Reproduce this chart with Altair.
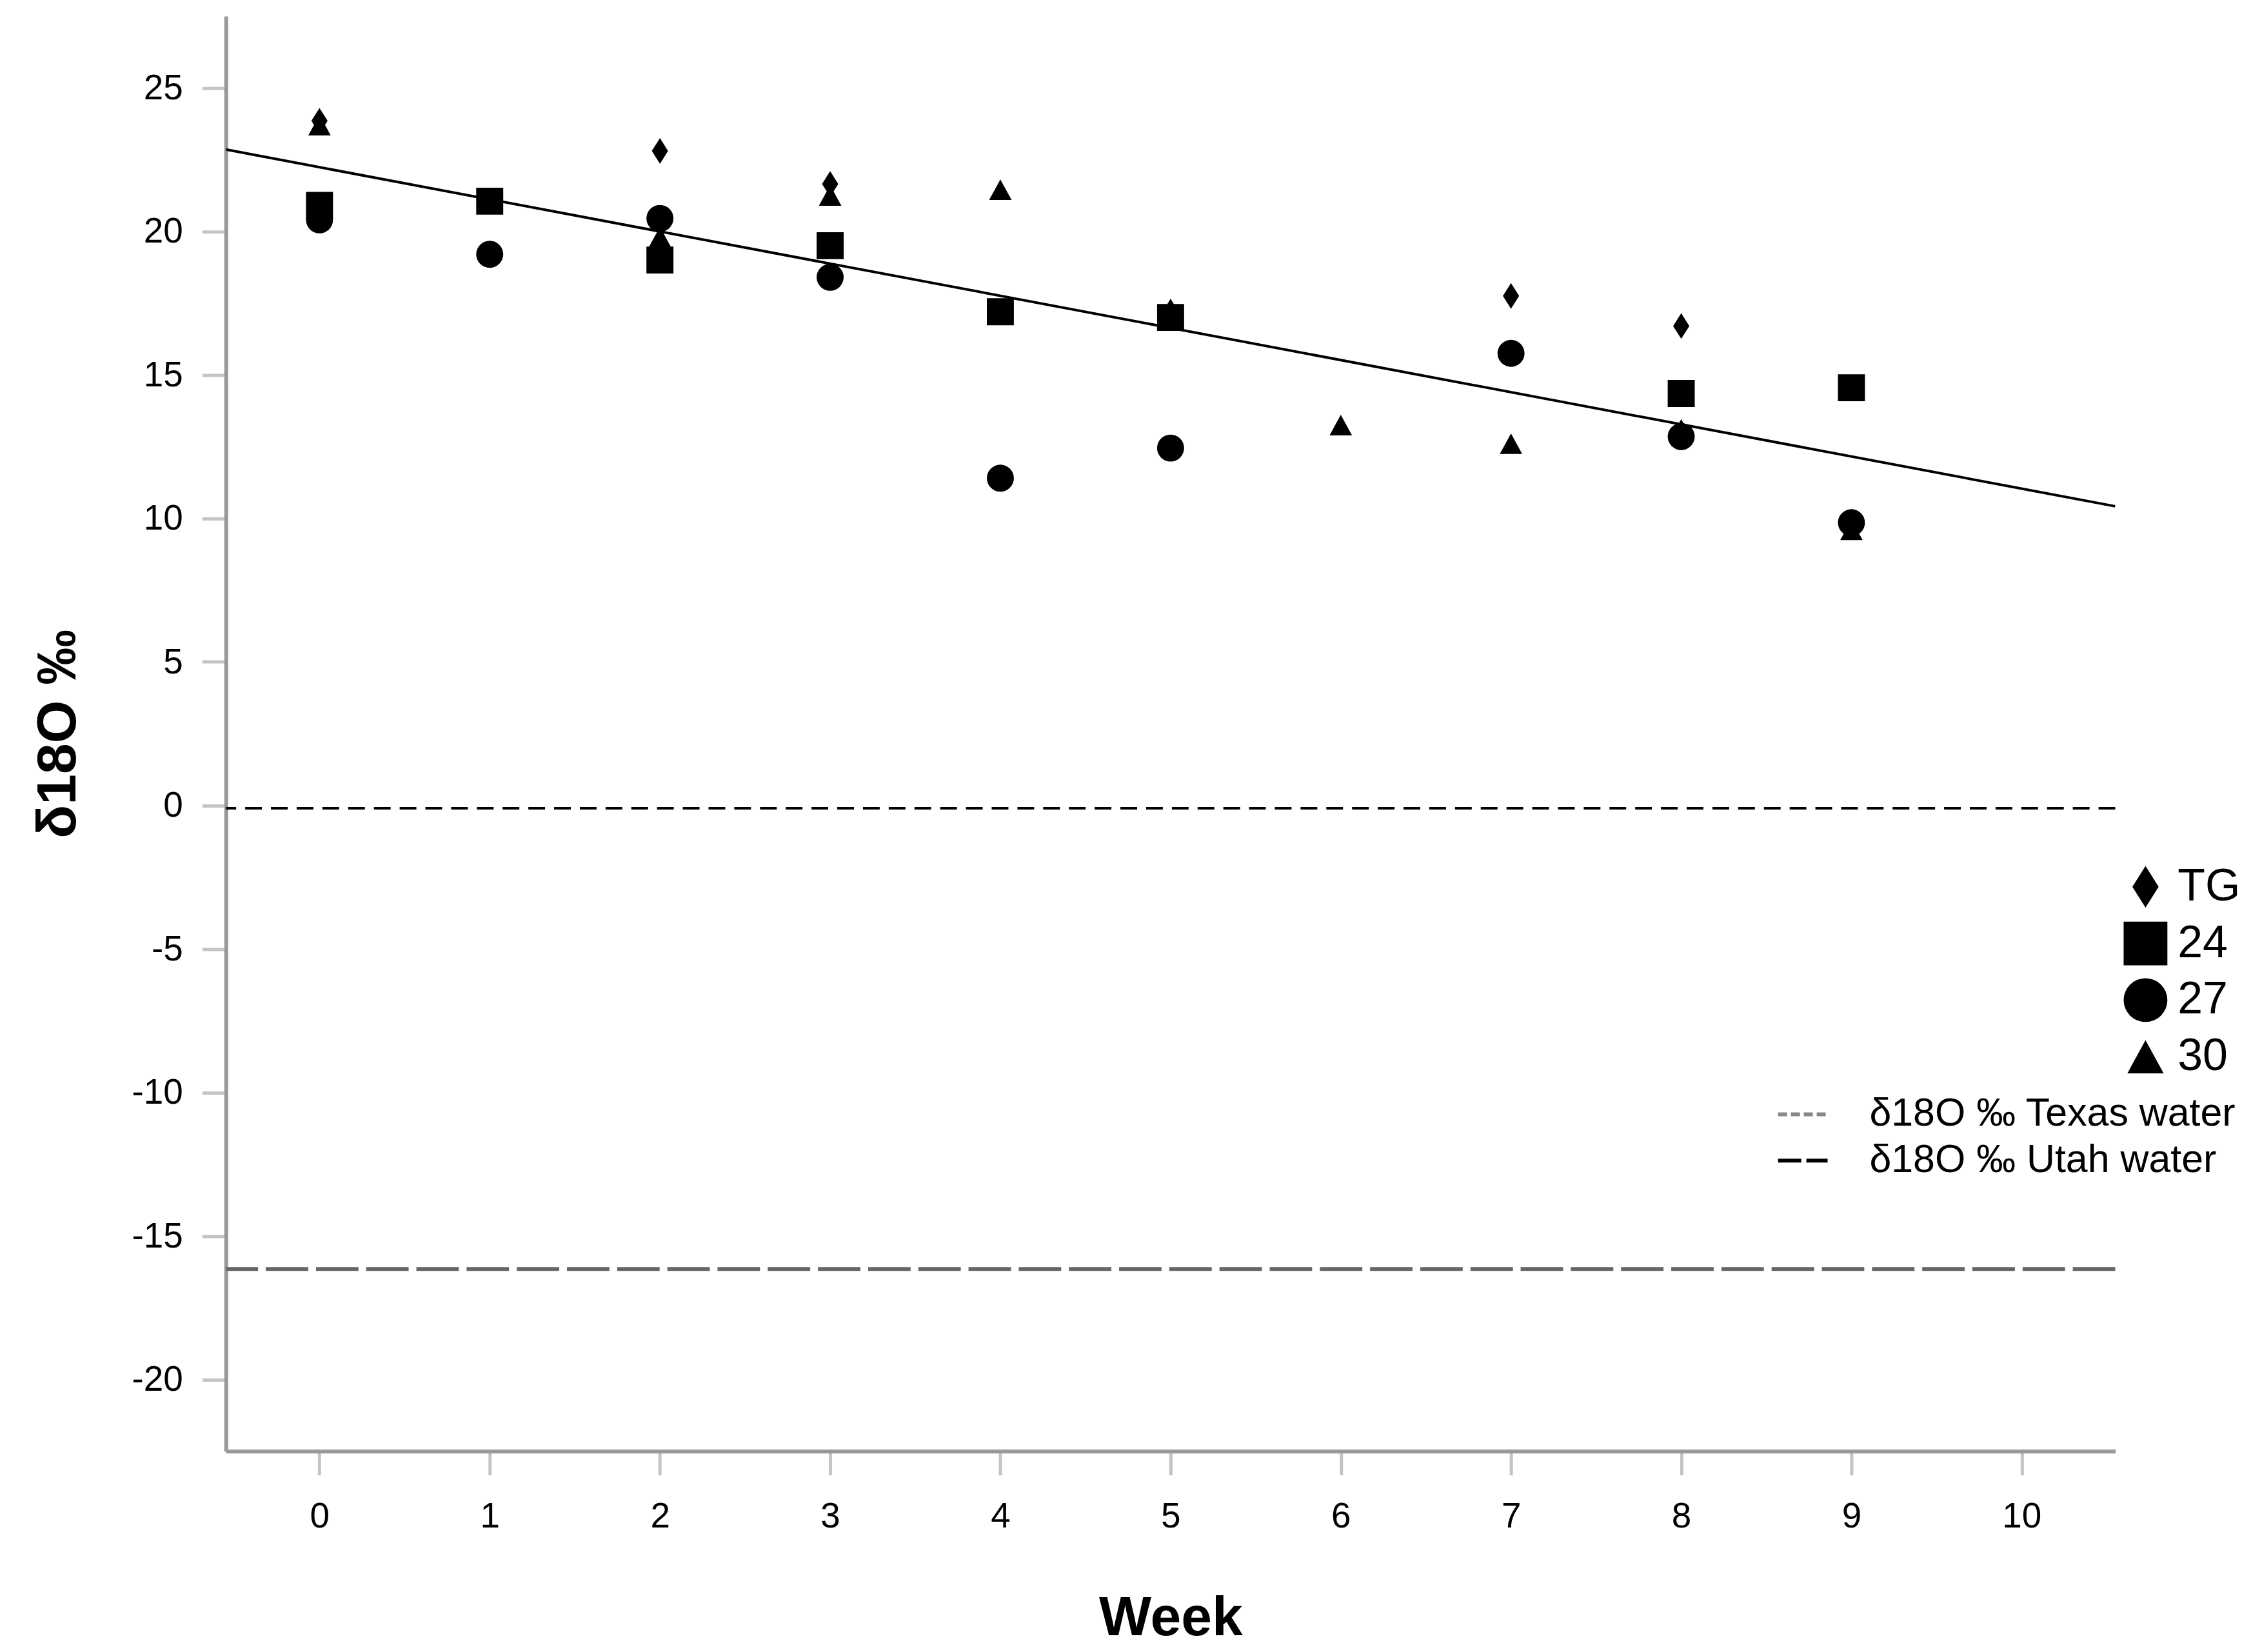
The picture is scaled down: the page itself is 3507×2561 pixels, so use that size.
import altair as alt
import pandas as pd

# ---- data ----
groups = ["TG", "24", "27", "30"]
weeks_tg = [0, 2, 3, 5, 7, 8]
vals_tg = [23.85, 22.8, 21.65, 17.2, 17.75, 16.7]
weeks_24 = [0, 1, 2, 3, 4, 5, 8, 9]
vals_24 = [20.9, 21.05, 19.0, 19.5, 17.2, 17.0, 14.35, 14.55]
weeks_27 = [0, 1, 2, 3, 4, 5, 7, 8, 9]
vals_27 = [20.4, 19.2, 20.45, 18.4, 11.4, 12.45, 15.75, 12.85, 9.85]
weeks_30 = [0, 2, 3, 4, 6, 7, 8, 9]
vals_30 = [23.7, 19.8, 21.25, 21.45, 13.25, 12.6, 13.1, 9.6]

fit_weeks = [-0.55, 10.55]
fit_vals = [22.85, 10.42]

ref_names = ["δ18O ‰ Texas water", "δ18O ‰ Utah water"]
ref_vals = [-0.1, -16.15]

x_ticks = list(range(0, 11))
y_ticks = list(range(-20, 30, 5))

# ---- tables ----
rows = []
for g, ws, vs in [("TG", weeks_tg, vals_tg), ("24", weeks_24, vals_24),
                  ("27", weeks_27, vals_27), ("30", weeks_30, vals_30)]:
    for w, v in zip(ws, vs):
        rows.append({"week": w, "val": v, "group": g})
pts = pd.DataFrame(rows)
fit = pd.DataFrame({"week": fit_weeks, "val": fit_vals})
refs = pd.DataFrame({"name": ref_names, "val": ref_vals})

FONT = "Liberation Sans"
xscale = alt.Scale(domain=[-0.55, 10.55], nice=False, zero=False)
yscale = alt.Scale(domain=[-22.5, 27.5], nice=False, zero=False)

xenc = alt.X("week:Q", scale=xscale,
             axis=alt.Axis(title="Week", values=x_ticks, labelExpr="'' + datum.value",
                           labelPadding=38, titleY=285, titleBaseline="alphabetic"))
yenc = alt.Y("val:Q", scale=yscale,
             axis=alt.Axis(title="δ18O ‰", values=y_ticks, labelExpr="'' + datum.value",
                           labelPadding=30, titleX=-234, titleY=1115,
                           titleBaseline="alphabetic"))

fit_line = alt.Chart(fit).mark_line(color="black", strokeWidth=4, clip=True).encode(
    x=xenc, y=yenc)

# visible reference lines
rule_texas = alt.Chart(refs).transform_filter(
    alt.datum.name == ref_names[0]
).mark_rule(color="#000000", strokeWidth=4, strokeDash=[26, 14]).encode(
    y=alt.Y("val:Q", scale=yscale))
rule_utah = alt.Chart(refs).transform_filter(
    alt.datum.name == ref_names[1]
).mark_rule(color="#666666", strokeWidth=6, strokeDash=[66, 12]).encode(
    y=alt.Y("val:Q", scale=yscale))

# invisible twin layer that carries the line legend (styled as in the reference key)
dash_legend = alt.Legend(
    title=None, orient="none", legendX=2409, legendY=1665,
    symbolType="stroke", symbolSize=5929, symbolStrokeWidth=6, symbolOpacity=1,
    labelFont=FONT, labelFontSize=61, labelColor="black", labelOffset=62,
    labelLimit=0, rowPadding=0, padding=0,
)
rule_key = alt.Chart(refs).mark_rule(opacity=0).encode(
    y=alt.Y("val:Q", scale=yscale),
    color=alt.Color("name:N", scale=alt.Scale(domain=ref_names, range=["#888888", "#000000"]),
                    legend=dash_legend),
    strokeDash=alt.StrokeDash("name:N",
                              scale=alt.Scale(domain=ref_names, range=[[14, 6], [36, 8]]),
                              legend=dash_legend),
)

diamond = "M0,-0.95L0.6,0L0,0.95L-0.6,0Z"
triangle = "M0,-0.76L0.83,0.76L-0.83,0.76Z"

points = alt.Chart(pts).mark_point(filled=True, size=1764, color="black", opacity=1).encode(
    x=alt.X("week:Q", scale=xscale),
    y=alt.Y("val:Q", scale=yscale),
    shape=alt.Shape(
        "group:N",
        scale=alt.Scale(domain=groups, range=[diamond, "square", "circle", triangle]),
        legend=alt.Legend(
            title=None, orient="none", legendX=2948, legendY=1318,
            symbolSize=4624, symbolFillColor="black", symbolStrokeWidth=0,
            labelFont=FONT, labelFontSize=70, labelColor="black", labelOffset=15,
            rowPadding=18, padding=0,
        ),
    ),
)

chart = alt.layer(fit_line, rule_texas, rule_utah, rule_key, points).properties(
    width=2936, height=2230,
    autosize=alt.AutoSizeParams(type="none"),
    padding={"left": 343, "top": 14, "right": 220, "bottom": 309},
).configure_view(stroke=None).configure_axis(
    grid=False, domainColor="#999999", domainWidth=6,
    tickColor="#c4c4c4", tickWidth=5, tickSize=37,
    labelFont=FONT, labelFontSize=55, labelColor="black",
    titleFont=FONT, titleFontSize=86, titleFontWeight="bold", titleColor="black",
)

chart.save("out.html", embed_options={"renderer": "svg", "actions": False})
